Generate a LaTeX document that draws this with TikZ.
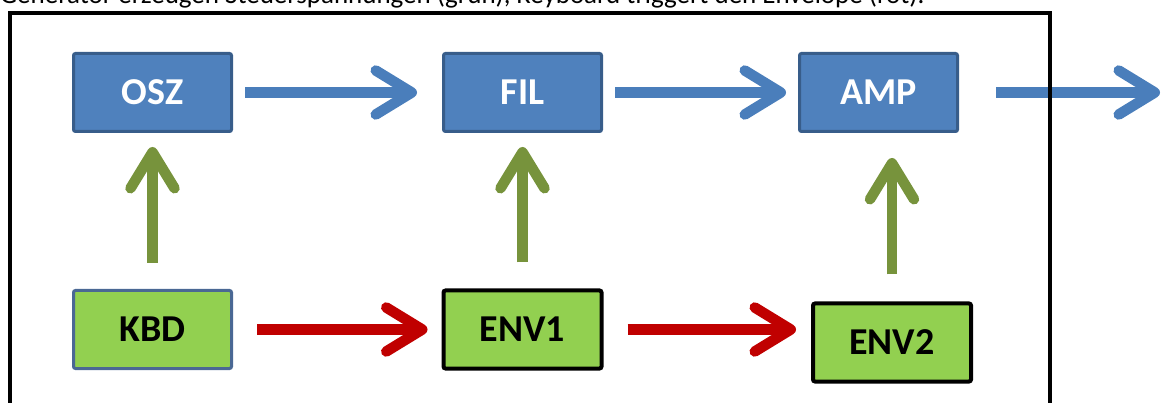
\documentclass[tikz,border=0pt]{standalone}
\usepackage{fontspec}
\setmainfont{Carlito}
\usetikzlibrary{arrows.meta}
\definecolor{boxblue}{HTML}{4F81BD}
\definecolor{boxblueborder}{HTML}{385D8A}
\definecolor{boxgreen}{HTML}{92D050}
\definecolor{kbdborder}{HTML}{4A6894}
\definecolor{arrblue}{HTML}{4A7EBB}
\definecolor{arrred}{HTML}{C00000}
\definecolor{arrgreen}{HTML}{77933C}
\tikzset{
  blockbase/.style={minimum width=158pt, minimum height=78pt, inner sep=0pt, rounded corners=2pt,
    font=\fontsize{38}{40}\selectfont\bfseries},
  bluebox/.style={blockbase, fill=boxblue, draw=boxblueborder, line width=3pt, text=white},
  kbdbox/.style={blockbase, fill=boxgreen, draw=kbdborder, line width=3pt, text=black},
  envbox/.style={blockbase, fill=boxgreen, draw=black, line width=4pt, text=black},
  bigarrow/.style={line width=10.5pt, -{Straight Barb[round, length=36pt, width=44pt]}},
  bluearrow/.style={bigarrow, draw=arrblue},
  redarrow/.style={bigarrow, draw=arrred},
  greenarrow/.style={bigarrow, draw=arrgreen},
}
\begin{document}
\begin{tikzpicture}[x=1pt, y=-1pt]
\useasboundingbox (0,0) rectangle (1162,403);
\begin{scope}
\clip (0,0) rectangle (1162,403);
\node[anchor=base west, inner sep=0pt, font=\fontsize{27}{30}\selectfont] (caption) at (0,4)
  {Generator erzeugen Steuerspannungen (grün), Keyboard triggert den Envelope (rot).};

\node[bluebox] (osz) at (152.5,92.5) {OSZ};
\node[bluebox] (fil) at (522.5,92.5) {FIL};
\node[bluebox] (amp) at (878.5,92.5) {AMP};
\node[kbdbox] (kbd) at (152.5,329.5) {KBD};
\node[envbox] (env1) at (522.5,329.5) {ENV1};
\node[envbox] (env2) at (892,342.5) {ENV2};
\coordinate (out) at (1160,92.5);

\draw[bluearrow, shorten <=12pt, shorten >=25pt] (osz.east) -- (fil.west);
\draw[bluearrow, shorten <=12pt, shorten >=12pt] (fil.east) -- (amp.west);
\draw[bluearrow, shorten <=37pt] (amp.east) -- (out);

\draw[redarrow, shorten <=24pt, shorten >=14pt] (kbd.east) -- (env1.west);
\draw[redarrow, shorten <=24pt, shorten >=15pt] (env1.east) -- (env1.east -| env2.west);

\draw[greenarrow, shorten <=26pt, shorten >=14pt] (kbd.north) -- (osz.south);
\draw[greenarrow, shorten <=26pt, shorten >=14pt] (env1.north) -- (fil.south);
\draw[greenarrow, shorten <=27pt, shorten >=25pt] (env2.north) -- (env2.north |- amp.south);

\draw[line width=4pt, line cap=rect] (10,420) -- (10,13) -- (1050,13) -- (1050,420);
\end{scope}
\end{tikzpicture}
\end{document}
